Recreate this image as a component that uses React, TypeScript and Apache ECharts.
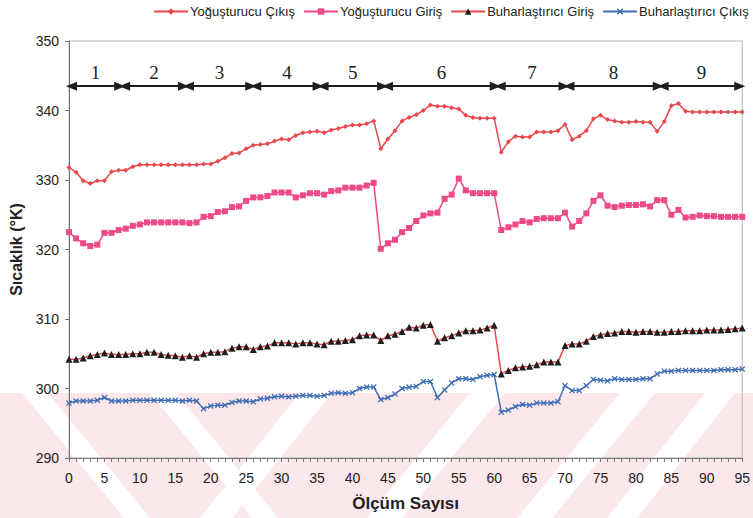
import React, { useEffect, useRef } from "react";
import * as echarts from "echarts";

// Measurement index 0..95
const yogusturucuCikis = [
  331.8, 331.1, 329.9, 329.5, 329.9, 329.9, 331.2, 331.4, 331.4, 331.9,
  332.2, 332.2, 332.2, 332.2, 332.2, 332.2, 332.2, 332.2, 332.2, 332.3,
  332.3, 332.7, 333.2, 333.8, 333.9, 334.5, 335.0, 335.1, 335.2, 335.6,
  335.9, 335.8, 336.4, 336.8, 336.9, 337.0, 336.8, 337.2, 337.4, 337.7,
  337.9, 337.9, 338.1, 338.5, 334.5, 335.9, 337.1, 338.5, 339.0, 339.4,
  340.0, 340.8, 340.6, 340.6, 340.4, 340.2, 339.3, 339.0, 338.9, 338.9,
  338.9, 334.0, 335.5, 336.3, 336.2, 336.2, 336.9, 336.9, 336.9, 337.1,
  338.0, 335.8, 336.3, 337.1, 338.8, 339.3, 338.7, 338.5, 338.3, 338.3,
  338.4, 338.3, 338.3, 337.0, 338.4, 340.7, 341.0, 339.9, 339.8, 339.8,
  339.8, 339.8, 339.8, 339.8, 339.8, 339.8,
];

const yogusturucuGiris = [
  322.5, 321.6, 320.9, 320.5, 320.7, 322.4, 322.4, 322.8, 323.0, 323.4,
  323.6, 323.9, 323.9, 323.9, 323.9, 323.9, 323.9, 323.8, 323.9, 324.7,
  324.8, 325.4, 325.5, 326.1, 326.2, 327.0, 327.5, 327.5, 327.7, 328.2,
  328.2, 328.2, 327.5, 327.8, 328.1, 328.1, 327.9, 328.4, 328.5, 328.9,
  328.9, 328.9, 329.2, 329.6, 320.1, 320.9, 321.4, 322.5, 323.1, 324.1,
  324.9, 325.2, 325.3, 327.3, 327.9, 330.2, 328.5, 328.1, 328.1, 328.1,
  328.1, 322.8, 323.2, 323.6, 324.1, 323.9, 324.4, 324.5, 324.5, 324.5,
  325.3, 323.3, 324.1, 325.2, 327.0, 327.8, 326.3, 326.1, 326.3, 326.4,
  326.4, 326.5, 326.2, 327.1, 327.1, 325.0, 325.7, 324.6, 324.7, 324.9,
  324.8, 324.8, 324.7, 324.7, 324.7, 324.7,
];

const buharlastiriciGiris = [
  304.2, 304.2, 304.4, 304.7, 304.9, 305.1, 304.9, 304.9, 304.9, 305.0,
  305.0, 305.2, 305.2, 304.9, 304.8, 304.7, 304.5, 304.7, 304.5, 305.0,
  305.2, 305.2, 305.3, 305.8, 306.0, 306.0, 305.6, 306.0, 306.1, 306.6,
  306.6, 306.6, 306.4, 306.6, 306.6, 306.4, 306.3, 306.8, 306.8, 306.9,
  307.0, 307.6, 307.7, 307.7, 306.9, 307.6, 307.8, 308.2, 308.8, 308.7,
  309.1, 309.2, 306.8, 307.3, 307.6, 308.0, 308.3, 308.3, 308.4, 308.7,
  309.1, 302.1, 302.6, 303.0, 303.1, 303.2, 303.4, 303.8, 303.8, 303.8,
  306.2, 306.4, 306.4, 306.8, 307.5, 307.7, 307.9, 308.0, 308.2, 308.2,
  308.1, 308.2, 308.2, 308.1, 308.1, 308.2, 308.2, 308.3, 308.3, 308.3,
  308.4, 308.4, 308.4, 308.5, 308.6, 308.7,
];

const buharlastiriciCikis = [
  297.9, 298.2, 298.2, 298.2, 298.3, 298.7, 298.2, 298.2, 298.2, 298.3,
  298.3, 298.3, 298.3, 298.3, 298.3, 298.3, 298.2, 298.3, 298.2, 297.1,
  297.5, 297.6, 297.6, 298.0, 298.2, 298.2, 298.1, 298.5, 298.6, 298.8,
  298.9, 298.8, 298.9, 299.0, 299.0, 298.9, 299.0, 299.3, 299.4, 299.3,
  299.4, 300.0, 300.2, 300.2, 298.4, 298.7, 299.2, 300.0, 300.2, 300.3,
  301.0, 301.0, 298.7, 299.8, 300.8, 301.4, 301.4, 301.3, 301.7, 301.9,
  302.0, 296.6, 296.9, 297.4, 297.7, 297.6, 297.9, 297.9, 297.9, 298.1,
  300.4, 299.7, 299.7, 300.4, 301.3, 301.2, 301.1, 301.4, 301.3, 301.3,
  301.3, 301.4, 301.4, 302.1, 302.5, 302.5, 302.6, 302.6, 302.6, 302.6,
  302.6, 302.6, 302.7, 302.7, 302.7, 302.8,
];

// Test periods 1..9 as [start, end] on the measurement axis
const periods: [number, number][] = [
  [0, 7.5], [7.5, 16.5], [16.5, 26], [26, 35.5], [35.5, 44.6],
  [44.6, 60.5], [60.5, 70.2], [70.2, 83.5], [83.5, 95],
];
const periodLevel = 343.5;

const seriesNames = [
  "Yoğuşturucu Çıkış",
  "Yoğuşturucu Giriş",
  "Buharlaştırıcı Giriş",
  "Buharlaştırıcı Çıkış",
];

const SANS = "'Liberation Sans', Arial, sans-serif";
const xMark = "path://M0,1.5L1.5,0L5,3.5L8.5,0L10,1.5L6.5,5L10,8.5L8.5,10L5,6.5L1.5,10L0,8.5L3.5,5Z";

const withIndex = (arr: number[]) => arr.map((v, i) => [i, v]);

export default function App() {
  const ref = useRef<HTMLDivElement>(null);

  useEffect(() => {
    if (!ref.current) return;
    document.body.style.margin = "0";
    const chart = echarts.init(ref.current, undefined, { renderer: "svg" });

    // faint diagonal background bands in the lower strip
    const pink = "rgba(232, 70, 95, 0.13)";
    const white = "#ffffff";
    const band = (pts: number[][], fill: string) => ({
      type: "polygon",
      silent: true,
      z: -10,
      shape: { points: pts },
      style: { fill },
    });

    chart.setOption({
      animation: false,
      graphic: [
        band([[0, 393], [753, 393], [753, 518], [0, 518]], pink),
        band([[22, 393], [48, 393], [150, 518], [124, 518]], white),
        band([[150, 393], [176, 393], [278, 518], [252, 518]], white),
        band([[300, 393], [332, 393], [232, 518], [200, 518]], white),
        band([[470, 393], [505, 393], [402, 518], [367, 518]], white),
        band([[620, 393], [655, 393], [552, 518], [517, 518]], white),
        band([[705, 393], [735, 393], [637, 518], [607, 518]], white),
      ],
      legend: {
        data: seriesNames,
        top: 0,
        left: 148,
        width: 620,
        itemWidth: 34,
        itemHeight: 8,
        itemGap: 8,
        textStyle: { fontFamily: SANS, fontSize: 13, color: "#222", padding: [0, 0, 0, -3] },
      },
      grid: {
        left: 69,
        right: 8,
        top: 41,
        bottom: 60,
        show: true,
        borderColor: "#b5b5b5",
        borderWidth: 1,
        backgroundColor: "transparent",
      },
      xAxis: {
        type: "value",
        min: 0,
        max: 95,
        interval: 5,
        name: "Ölçüm Sayısı",
        nameLocation: "middle",
        nameGap: 37,
        nameTextStyle: { fontFamily: SANS, fontSize: 17, fontWeight: "bold", color: "#222" },
        axisLine: { lineStyle: { color: "#777", width: 1 } },
        axisTick: { show: true, length: 4, lineStyle: { color: "#777" } },
        minorTick: { show: true, splitNumber: 5, length: 4, lineStyle: { color: "#777" } },
        splitLine: { show: false },
        axisLabel: { fontFamily: SANS, fontSize: 14, color: "#222", margin: 13 },
      },
      yAxis: {
        type: "value",
        min: 290,
        max: 350,
        interval: 10,
        name: "Sıcaklık (°K)",
        nameLocation: "middle",
        nameGap: 42,
        nameTextStyle: { fontFamily: SANS, fontSize: 16, fontWeight: "bold", color: "#222" },
        axisLine: { show: true, lineStyle: { color: "#777", width: 1 } },
        axisTick: { show: true, length: 4, lineStyle: { color: "#777" } },
        splitLine: { show: false },
        axisLabel: { fontFamily: SANS, fontSize: 14, color: "#222", margin: 10 },
      },
      series: [
        {
          name: seriesNames[0],
          type: "line",
          data: withIndex(yogusturucuCikis),
          symbol: "diamond",
          symbolSize: 5,
          lineStyle: { color: "#e8474c", width: 1.5 },
          itemStyle: { color: "#e8474c" },
          z: 3,
        },
        {
          name: seriesNames[1],
          type: "line",
          data: withIndex(yogusturucuGiris),
          symbol: "rect",
          symbolSize: 6,
          lineStyle: { color: "#ee4a88", width: 1.5 },
          itemStyle: { color: "#ee4a88" },
          z: 3,
        },
        {
          name: seriesNames[2],
          type: "line",
          data: withIndex(buharlastiriciGiris),
          symbol: "triangle",
          symbolSize: 7,
          lineStyle: { color: "#e8474c", width: 1.5 },
          itemStyle: { color: "#1e1e1e" },
          z: 3,
        },
        {
          name: seriesNames[3],
          type: "line",
          data: withIndex(buharlastiriciCikis),
          symbol: xMark,
          symbolSize: 6,
          lineStyle: { color: "#3e6db5", width: 1.5 },
          itemStyle: { color: "#3e6db5" },
          z: 3,
        },
        {
          name: "periods",
          type: "line",
          data: [],
          markLine: {
            silent: true,
            symbol: ["triangle", "triangle"],
            symbolSize: [9, 11],
            lineStyle: { color: "#1e1e1e", width: 1.8, type: "solid" },
            label: {
              show: true,
              position: "middle",
              distance: 4,
              formatter: (p: any) => p.name,
              fontFamily: "'Liberation Serif', 'Times New Roman', serif",
              fontSize: 19,
              color: "#222",
            },
            data: periods.map(([s, e], i) => [
              { coord: [s + 0.35, periodLevel], name: String(i + 1) },
              { coord: [e - 0.35, periodLevel] },
            ]),
          },
        },
      ],
    });

    return () => chart.dispose();
  }, []);

  return <div ref={ref} style={{ width: 753, height: 518 }} />;
}
